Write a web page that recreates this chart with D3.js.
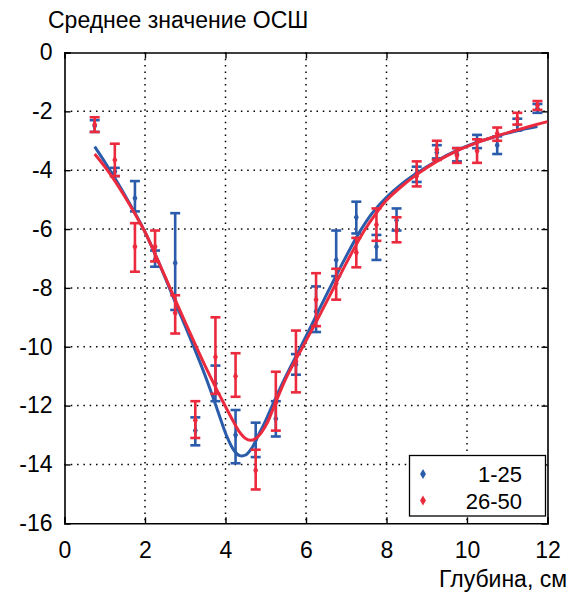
<!DOCTYPE html>
<html>
<head>
<meta charset="utf-8">
<script src="https://cdn.jsdelivr.net/npm/d3@7"></script>
<style>
  html, body { margin: 0; padding: 0; background: #fff; }
  svg { display: block; font-family: "Liberation Sans", Arial, sans-serif; }
</style>
</head>
<body>
<svg id="chart" width="568" height="592"></svg>
<script>
// Measurement depths, cm
const depth = [0.75, 1.25, 1.75, 2.25, 2.75, 3.25, 3.75, 4.25, 4.75, 5.25, 5.75, 6.25,
               6.75, 7.25, 7.75, 8.25, 8.75, 9.25, 9.75, 10.25, 10.75, 11.25, 11.75];

// Series "1-25": mean SNR with lower / upper error limits
const meanA = [-2.5, -4.05, -4.95, -7.05, -7.15, -12.85, -11.25, -13.0, -13.15, -12.45, -10.6, -8.8,
               -7.05, -5.6, -6.6, -5.7, -4.1, -3.4, -3.45, -3.0, -3.15, -2.45, -1.9];
const lowA  = [-2.7, -4.2, -5.4, -7.28, -8.75, -13.35, -11.85, -13.96, -13.75, -13.05, -10.95, -9.5,
               -7.6, -6.15, -7.05, -6.05, -4.4, -3.6, -3.7, -3.25, -3.45, -2.65, -2.05];
const highA = [-2.3, -3.92, -4.37, -6.73, -5.46, -12.4, -10.64, -12.15, -12.58, -11.85, -10.25, -7.95,
               -6.05, -5.07, -6.2, -5.3, -3.88, -3.15, -3.25, -2.8, -2.85, -2.25, -1.75];

// Series "26-50"
const meanB = [-2.45, -3.65, -6.6, -6.6, -8.85, -12.5, -10.35, -11.0, -14.2, -11.9, -10.5, -8.4,
               -7.85, -6.8, -5.85, -6.05, -4.2, -3.3, -3.5, -3.35, -2.75, -2.25, -1.8];
const lowB  = [-2.7, -4.2, -7.45, -7.1, -9.55, -13.1, -11.6, -11.7, -14.85, -12.85, -11.55, -9.3,
               -8.4, -7.3, -6.4, -6.45, -4.55, -3.65, -3.75, -3.75, -3.0, -2.45, -1.95];
const highB = [-2.2, -3.1, -5.8, -6.05, -8.25, -11.85, -9.0, -10.22, -13.5, -10.85, -9.45, -7.5,
               -7.35, -6.3, -5.3, -5.6, -3.7, -3.0, -3.25, -2.95, -2.55, -2.05, -1.65];

// Fitted curves (depth, SNR)
const fitAx = [0.75, 1.0, 1.25, 1.5, 1.75, 2.0, 2.25, 2.5, 2.75, 3.0, 3.25, 3.5, 3.75, 3.9, 4.05, 4.2, 4.35, 4.5, 4.65,
               4.8, 5.0, 5.2, 5.5, 5.9, 6.25, 6.6, 7.0, 7.34, 7.65, 8.0, 8.35, 8.7, 9.25, 9.75, 10.25, 10.75, 11.25, 11.75];
const fitAy = [-3.2, -3.72, -4.27, -4.85, -5.45, -6.1, -6.85, -7.65, -8.48, -9.3, -10.13, -11.0, -11.95, -12.55, -13.1, -13.5, -13.7, -13.68, -13.45,
               -13.05, -12.5, -11.88, -11.0, -9.92, -8.95, -7.98, -6.92, -6.08, -5.45, -4.92, -4.5, -4.15, -3.68, -3.33, -3.05, -2.84, -2.66, -2.52];
const fitBx = [0.75, 1.0, 1.25, 1.5, 1.75, 2.0, 2.25, 2.5, 2.75, 3.0, 3.25, 3.5, 3.75, 4.0, 4.2, 4.35, 4.5, 4.62, 4.75, 4.9,
               5.05, 5.2, 5.5, 5.98, 6.35, 6.68, 7.05, 7.45, 7.75, 8.0, 8.35, 8.75, 9.25, 9.75, 10.25, 10.75, 11.25, 11.75, 12.0];
const fitBy = [-3.45, -3.88, -4.36, -4.9, -5.48, -6.1, -6.85, -7.62, -8.4, -9.17, -9.93, -10.67, -11.37, -12.03, -12.55, -12.9, -13.12, -13.18, -13.12, -12.9,
               -12.55, -12.05, -11.08, -9.85, -8.9, -8.02, -7.03, -6.05, -5.45, -5.02, -4.58, -4.15, -3.7, -3.34, -3.06, -2.83, -2.63, -2.44, -2.35];

const xTicks = [0, 2, 4, 6, 8, 10, 12];
const yTicks = [0, -2, -4, -6, -8, -10, -12, -14, -16];
const seriesNames = ["1-25", "26-50"];
const colors = ["#2b5cab", "#ec2a3d"];

const svg = d3.select("#chart");
const L = 64.5, R = 547.5, T = 52.5, B = 523.3;

const x = d3.scaleLinear().domain([0, 12]).range([L, R]);
const y = d3.scaleLinear().domain([-16, 0]).range([B, T]);

// dotted grid
const grid = svg.append("g");
grid.selectAll("line.gx").data(xTicks.slice(1, -1)).join("line")
  .attr("x1", d => x(d)).attr("x2", d => x(d)).attr("y1", T).attr("y2", B)
  .attr("stroke", "#000").attr("stroke-width", 1.5).attr("stroke-dasharray", "1.5,4.8");
grid.selectAll("line.gy").data(yTicks.slice(1, -1)).join("line")
  .attr("x1", L).attr("x2", R).attr("y1", d => y(d)).attr("y2", d => y(d))
  .attr("stroke", "#000").attr("stroke-width", 1.5).attr("stroke-dasharray", "1.5,4.8");

// axes with inward ticks on all four sides
const fs = "23px";
const axB = svg.append("g").attr("transform", `translate(0,${B})`)
  .call(d3.axisBottom(x).tickValues(xTicks).tickSize(-6).tickPadding(18).tickFormat(d3.format("d")));
const axT = svg.append("g").attr("transform", `translate(0,${T})`)
  .call(d3.axisTop(x).tickValues(xTicks).tickSize(-6).tickFormat(""));
const axL = svg.append("g").attr("transform", `translate(${L},0)`)
  .call(d3.axisLeft(y).tickValues(yTicks).tickSize(-6).tickPadding(12).tickFormat(d => d3.format("d")(d).replace("−", "-")));
const axR = svg.append("g").attr("transform", `translate(${R},0)`)
  .call(d3.axisRight(y).tickValues(yTicks).tickSize(-6).tickFormat(""));
[axB, axT, axL, axR].forEach(a => {
  a.select(".domain").attr("stroke", "#000").attr("stroke-width", 1.6);
  a.selectAll(".tick line").attr("stroke", "#000").attr("stroke-width", 1.4);
  a.selectAll("text").attr("font-size", fs).attr("fill", "#000")
    .attr("font-family", "'Liberation Sans', Arial, sans-serif");
});

// series: error bars, mean markers and fitted curve
const series = [
  { mean: meanA, low: lowA, high: highA, fx: fitAx, fy: fitAy },
  { mean: meanB, low: lowB, high: highB, fx: fitBx, fy: fitBy }
];
const cap = 5;
const line = d3.line().x(d => x(d[0])).y(d => y(d[1])).curve(d3.curveCatmullRom.alpha(0.5));
const diamond = d3.symbol().type(d3.symbolDiamond).size(22);

series.forEach((s, i) => {
  const g = svg.append("g");
  const c = colors[i];
  const pts = depth.map((d, k) => ({ x: d, m: s.mean[k], lo: s.low[k], hi: s.high[k] }));
  g.selectAll("line.v").data(pts).join("line")
    .attr("x1", d => x(d.x)).attr("x2", d => x(d.x)).attr("y1", d => y(d.lo)).attr("y2", d => y(d.hi))
    .attr("stroke", c).attr("stroke-width", 2.6);
  ["lo", "hi"].forEach(key => {
    g.selectAll("line." + key).data(pts).join("line")
      .attr("x1", d => x(d.x) - cap).attr("x2", d => x(d.x) + cap)
      .attr("y1", d => y(d[key])).attr("y2", d => y(d[key]))
      .attr("stroke", c).attr("stroke-width", 2.6);
  });
  g.selectAll("path.m").data(pts).join("path")
    .attr("d", diamond).attr("transform", d => `translate(${x(d.x)},${y(d.m)})`).attr("fill", c);
  g.append("path").datum(s.fx.map((v, k) => [v, s.fy[k]]))
    .attr("d", line).attr("fill", "none").attr("stroke", c).attr("stroke-width", 3);
});

// legend
const lg = svg.append("g");
lg.append("rect").attr("x", 409.5).attr("y", 455.5).attr("width", 136).attr("height", 60.5)
  .attr("fill", "#fff").attr("stroke", "#000").attr("stroke-width", 1.3);
seriesNames.forEach((n, i) => {
  const yy = 474 + i * 26.5;
  lg.append("path").attr("d", d3.symbol().type(d3.symbolDiamond).size(30))
    .attr("transform", `translate(423,${yy})`).attr("fill", colors[i]);
  lg.append("text").attr("x", 522).attr("y", yy + 8).attr("text-anchor", "end")
    .attr("font-size", "22px").attr("fill", "#000").text(n);
});

// titles
svg.append("text").attr("x", 48).attr("y", 28).attr("font-size", "23px").attr("fill", "#000")
  .text("Среднее значение ОСШ");
svg.append("text").attr("x", 567).attr("y", 587).attr("text-anchor", "end").attr("font-size", "23px")
  .attr("fill", "#000").text("Глубина, см");
</script>
</body>
</html>
